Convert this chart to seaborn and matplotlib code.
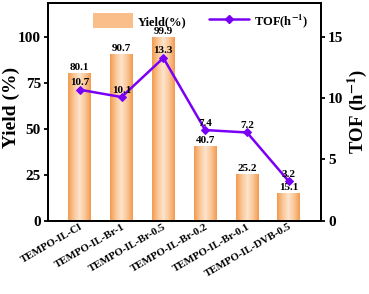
import numpy as np
import pandas as pd
import matplotlib
matplotlib.use("Agg")
import matplotlib.pyplot as plt
import seaborn as sns
from matplotlib.colors import LinearSegmentedColormap
from matplotlib.lines import Line2D
from matplotlib.patches import Patch

catalysts = ["TEMPO-IL-Cl", "TEMPO-IL-Br-1", "TEMPO-IL-Br-0.5",
             "TEMPO-IL-Br-0.2", "TEMPO-IL-Br-0.1", "TEMPO-IL-DVB-0.5"]
yield_pct = [80.1, 90.7, 99.9, 40.7, 25.2, 15.1]
tof = [10.7, 10.1, 13.3, 7.4, 7.2, 3.2]

sns.set_style("ticks", {"axes.edgecolor": "black", "text.color": "black",
                        "axes.labelcolor": "black", "xtick.color": "black",
                        "ytick.color": "black"})
plt.rcParams["font.family"] = ["Liberation Serif", "DejaVu Serif"]
plt.rcParams["font.weight"] = "bold"
plt.rcParams["mathtext.fontset"] = "stix"

df = pd.DataFrame({"catalyst": catalysts, "yield": yield_pct, "tof": tof})

fig, ax = plt.subplots(figsize=(3.69, 2.94), dpi=100)
fig.subplots_adjust(left=0.13, right=0.87, top=0.99, bottom=0.25)

sns.barplot(data=df, x="catalyst", y="yield", ax=ax, width=0.55,
            color="#F7A865", edgecolor="none", saturation=1)

# horizontal gradient inside each bar
cmap = LinearSegmentedColormap.from_list(
    "bar", ["#F49A50", "#FAC796", "#FDE4CC", "#FAC796", "#F49A50"])
grad = np.linspace(0, 1, 64).reshape(1, -1)
for p in ax.patches:
    x0, y0 = p.get_x(), p.get_y()
    w, h = p.get_width(), p.get_height()
    im = ax.imshow(grad, cmap=cmap, aspect="auto",
                   extent=[x0, x0 + w, y0, y0 + h], zorder=2)
    im.set_clip_path(p)
    ax.text(x0 + w / 2, h + 0.6, f"{h:.1f}", ha="center", va="bottom",
            fontsize=8, fontweight="bold")

ax.set_xlim(-0.76, 5.77)
ax.set_ylim(0, 118.5)
ax.set_yticks([0, 25, 50, 75, 100])
ax.set_xlabel("")
ax.set_ylabel("Yield (%)", fontsize=14, fontweight="bold")
ax.yaxis.set_label_coords(-0.103, 0.52)
ax.tick_params(axis="y", labelsize=11, width=1.3, length=3, pad=2)
ax.tick_params(axis="x", length=0, labelsize=7.8, pad=1)
plt.setp(ax.get_xticklabels(), rotation=30, ha="right",
         rotation_mode="anchor", fontweight="bold")
for lab in ax.get_yticklabels():
    lab.set_fontweight("bold")

ax2 = ax.twinx()
xpos = np.arange(len(catalysts))
sns.lineplot(x=xpos, y=tof, ax=ax2, color="#7A00F5", lw=1.8,
             marker="D", markersize=4, markeredgecolor="#7A00F5")
for xi, t in zip(xpos, tof):
    ax2.text(xi, t + 0.2, f"{t}", ha="center", va="bottom",
             fontsize=8, fontweight="bold")
ax2.set_ylim(0, 17.8)
ax2.set_yticks([0, 5, 10, 15])
ax2.set_ylabel("TOF (h$^{\\mathbf{-1}}$)", fontsize=13.5, fontweight="bold")
ax2.yaxis.set_label_coords(1.09, 0.5)
ax2.tick_params(axis="y", labelsize=11, width=1.3, length=3, pad=2)
for lab in ax2.get_yticklabels():
    lab.set_fontweight("bold")

for a in (ax, ax2):
    for s in a.spines.values():
        s.set_linewidth(1.3)

handles = [Patch(facecolor="#F9BE8A", edgecolor="none"),
           Line2D([], [], color="#7A00F5", lw=1.8, marker="D", markersize=4)]
ax.legend(handles, ["Yield(%)", "TOF(h$^{\\mathbf{-1}}$)"], loc="upper center",
          ncol=2, frameon=False, bbox_to_anchor=(0.56, 1.01),
          handlelength=3.2, handleheight=1.4, handletextpad=0.4,
          columnspacing=1.8, prop={"weight": "bold", "size": 9})

fig.savefig("out.png", dpi=100)
